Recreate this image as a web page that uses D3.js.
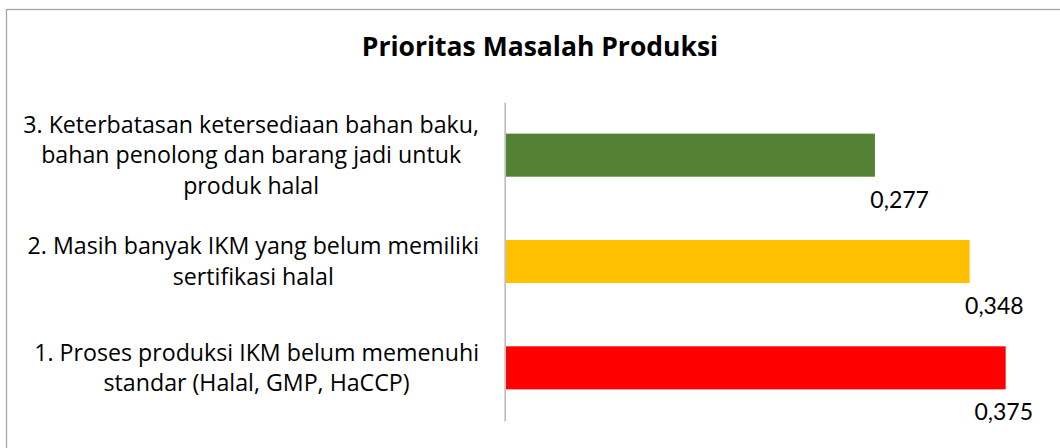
<!DOCTYPE html>
<html>
<head>
<meta charset="utf-8">
<script src="https://cdn.jsdelivr.net/npm/d3@7"></script>
<style>
  html, body { margin: 0; padding: 0; background: #fff; }
  svg { display: block; }
</style>
</head>
<body>
<svg id="chart" width="1060" height="448"></svg>
<script>
// ---- data ----
const title = "Prioritas Masalah Produksi";
const categoryIds = ["1", "2", "3"];
const categoryLines = [
  ["1. Proses produksi IKM belum memenuhi", "standar (Halal, GMP, HaCCP)"],
  ["2. Masih banyak IKM yang belum memiliki", "sertifikasi halal"],
  ["3. Keterbatasan ketersediaan bahan baku,", "bahan penolong dan barang jadi untuk", "produk halal"]
];
const values = [0.375, 0.348, 0.277];
const barColors = ["#FF0000", "#FFC000", "#548235"];

// ---- layout ----
const plotTop = 102, plotBottom = 421, plotLeft = 505.5, plotRight = 1039;
const labelRight = 1033;
const catRight = 479;
const catFont = "'Open Sans', Lato, sans-serif";
const valFont = "Lato, 'Open Sans', sans-serif";

const svg = d3.select("#chart");

// chart border (extends beyond the visible area on right/bottom)
svg.append("rect")
  .attr("x", 6.5).attr("y", 9.5)
  .attr("width", 1200).attr("height", 600)
  .attr("fill", "#fff")
  .attr("stroke", "#a6a6a6").attr("stroke-width", 1.3);

const x = d3.scaleLinear().domain([0, 0.4]).range([plotLeft, plotRight]);
const y = d3.scaleBand().domain(categoryIds).range([plotBottom, plotTop])
  .paddingInner(0.595).paddingOuter(0.2975);

const locale = d3.formatLocale({ decimal: ",", thousands: ".", grouping: [3], currency: ["", ""] });
const fmt = locale.format(".3f");

// title
svg.append("text")
  .attr("x", 540).attr("y", 56)
  .attr("text-anchor", "middle")
  .attr("font-family", catFont)
  .attr("font-weight", "bold")
  .attr("font-size", 26.5)
  .attr("fill", "#000")
  .text(title);

// bars
svg.append("g").selectAll("rect")
  .data(categoryIds)
  .join("rect")
  .attr("x", x(0))
  .attr("y", d => y(d))
  .attr("width", (d, i) => x(values[i]) - x(0))
  .attr("height", y.bandwidth())
  .attr("fill", (d, i) => barColors[i]);

// axis line
const axis = d3.axisLeft(y).tickSize(0).tickSizeOuter(0).tickFormat("");
const axG = svg.append("g")
  .attr("transform", `translate(${plotLeft - 0.8},0)`)
  .call(axis);
axG.select(".domain").attr("stroke", "#bfbfbf").attr("stroke-width", 1.7);
axG.selectAll(".tick").remove();

// value labels
svg.append("g").selectAll("text")
  .data(categoryIds)
  .join("text")
  .attr("x", (d, i) => Math.min(x(values[i]) + 54, labelRight))
  .attr("y", d => y(d) + y.bandwidth() + 31)
  .attr("text-anchor", "end")
  .attr("font-family", valFont)
  .attr("font-size", 23)
  .attr("fill", "#000")
  .text((d, i) => fmt(values[i]));

// category labels (multi-line, centred block, right-aligned to axis)
const lineH = 30.5;
const catG = svg.append("g");
categoryIds.forEach((id, i) => {
  const lines = categoryLines[i];
  const cy = y(id) + y.bandwidth() / 2 + 8;
  const t = catG.append("text")
    .attr("text-anchor", "middle")
    .attr("font-family", catFont)
    .attr("font-size", 23.2)
    .attr("fill", "#000");
  const tspans = lines.map((ln, j) => t.append("tspan")
    .attr("y", cy + (j - (lines.length - 1) / 2) * lineH)
    .text(ln));
  const maxW = d3.max(tspans, s => s.node().getComputedTextLength());
  tspans.forEach(s => s.attr("x", catRight - maxW / 2));
});
</script>
</body>
</html>
